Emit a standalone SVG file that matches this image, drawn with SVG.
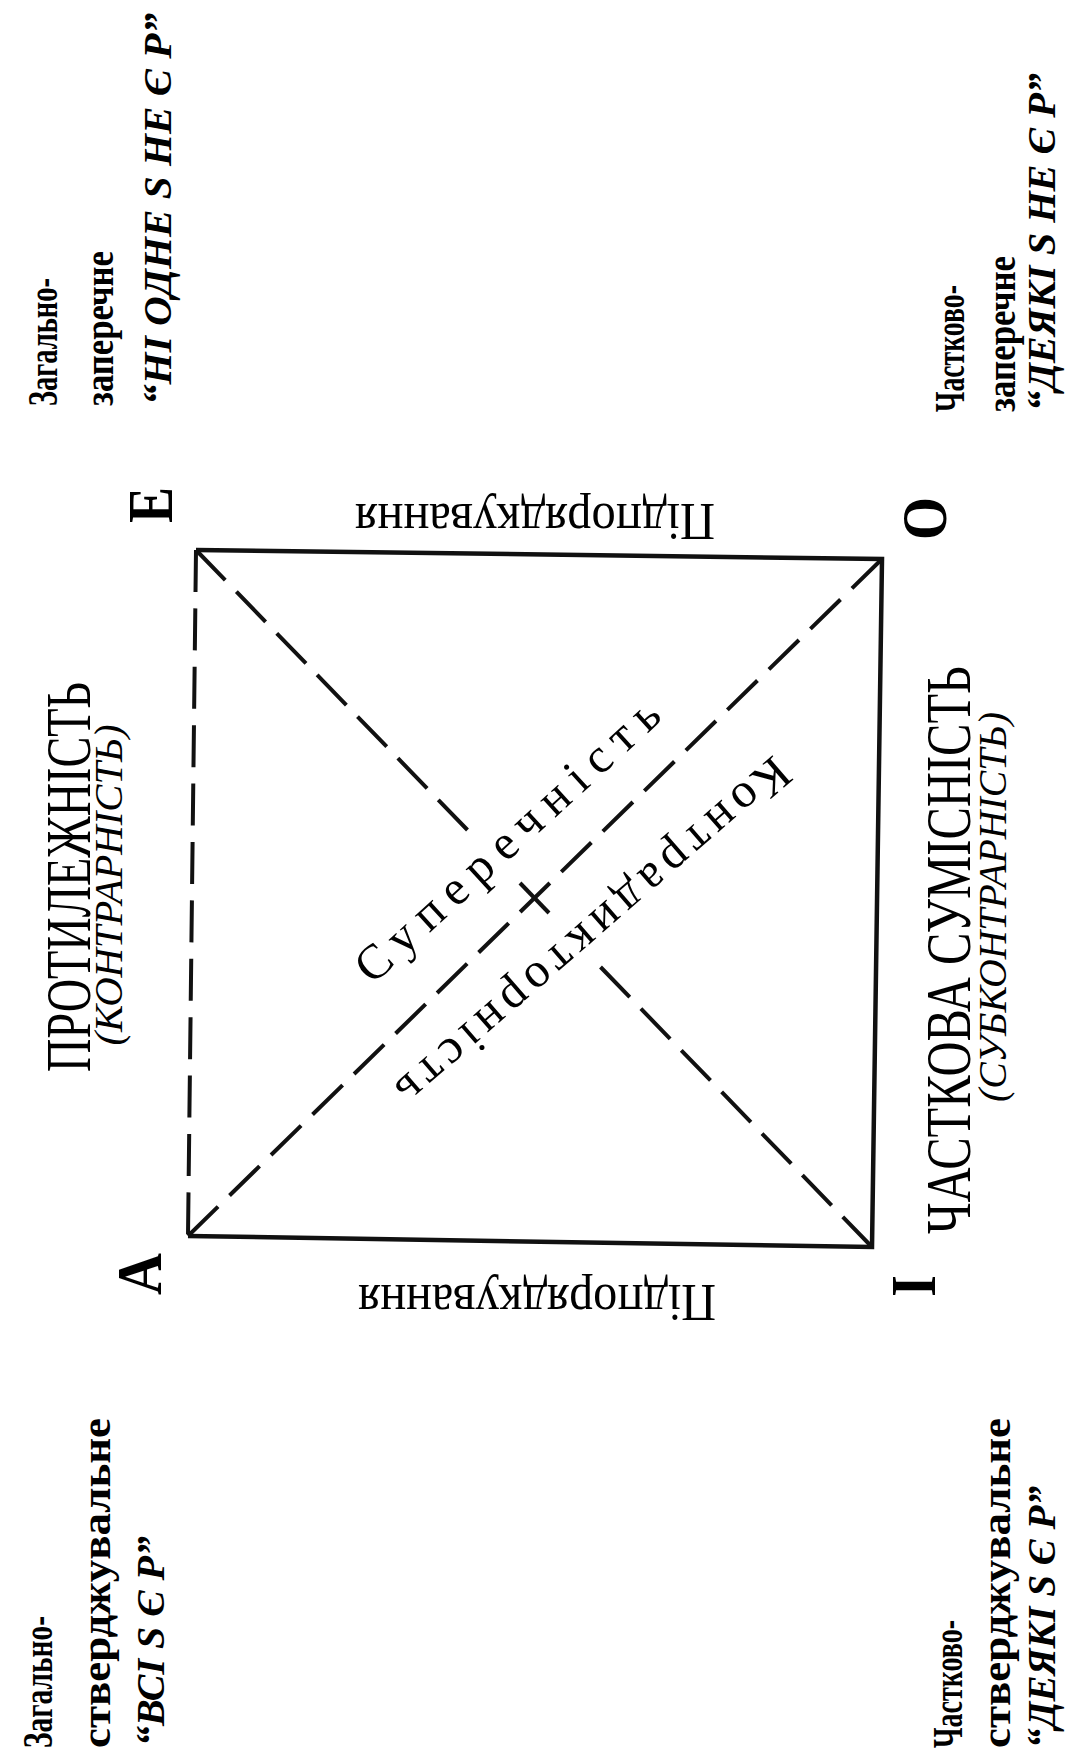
<svg xmlns="http://www.w3.org/2000/svg" width="1067" height="1753" viewBox="0 0 1067 1753">
<style>
.t{font-family:"Liberation Serif","Times New Roman",serif;fill:#000}
.big{font-size:64px;font-weight:bold}
.cl{font-size:43px;font-weight:bold}
.cq{font-size:41px;font-weight:bold;font-style:italic}
.rel{font-size:63px}
.reli{font-size:40px;font-style:italic}
.diag{font-size:49px}
.sub{font-size:52px}
.solid{stroke:#111;stroke-width:4.5;fill:none;stroke-linejoin:miter}
.dash{stroke:#111;stroke-width:4;fill:none;stroke-dasharray:42 16}
</style>
<rect width="1067" height="1753" fill="#fff"/>
<g id="connectors">
  <path class="solid" d="M196,550 L882,559 L872,1247 L188,1236"/>
  <path class="dash" style="stroke-dasharray:42 16.4" d="M196,550 L188,1236"/>
  <path class="dash" d="M196,550 L467.5,830"/>
  <path class="dash" d="M872,1247 L600.5,967"/>
  <path class="dash" d="M188,1236 L535,897.5"/>
  <path class="dash" d="M882,559 L535,897.5"/>
  <path class="solid" style="stroke-width:4" d="M520,883 L549,913"/>
</g>
<g id="node-E">
  <text class="t big" transform="translate(172,505) rotate(-90)" text-anchor="middle" textLength="36" lengthAdjust="spacingAndGlyphs">E</text>
  <text class="t cl" transform="translate(57,406) rotate(-90)" textLength="128" lengthAdjust="spacingAndGlyphs">Загально-</text>
  <text class="t cl" transform="translate(113,406) rotate(-90)" textLength="155" lengthAdjust="spacingAndGlyphs">заперечне</text>
  <text class="t cq" transform="translate(171,405) rotate(-90)" textLength="392" lengthAdjust="spacingAndGlyphs">“НІ ОДНЕ S НЕ Є P”</text>
</g>
<g id="node-O">
  <text class="t big" transform="translate(946,518.5) rotate(-90)" text-anchor="middle" textLength="43" lengthAdjust="spacingAndGlyphs">O</text>
  <text class="t cl" transform="translate(964,412) rotate(-90)" textLength="127" lengthAdjust="spacingAndGlyphs">Частково-</text>
  <text class="t cl" transform="translate(1015,412) rotate(-90)" textLength="156" lengthAdjust="spacingAndGlyphs">заперечне</text>
  <text class="t cq" transform="translate(1055,411) rotate(-90)" textLength="338" lengthAdjust="spacingAndGlyphs">“ДЕЯКІ S НЕ Є P”</text>
</g>
<g id="node-A">
  <text class="t big" transform="translate(161,1274) rotate(-90)" text-anchor="middle" textLength="42" lengthAdjust="spacingAndGlyphs">A</text>
  <text class="t cl" transform="translate(52,1748) rotate(-90)" textLength="132" lengthAdjust="spacingAndGlyphs">Загально-</text>
  <text class="t cl" transform="translate(110,1748) rotate(-90)" textLength="330" lengthAdjust="spacingAndGlyphs">стверджувальне</text>
  <text class="t cq" transform="translate(164,1746) rotate(-90)" textLength="210" lengthAdjust="spacingAndGlyphs">“ВСІ S Є P”</text>
</g>
<g id="node-I">
  <text class="t big" transform="translate(935,1286) rotate(-90)" text-anchor="middle" textLength="22" lengthAdjust="spacingAndGlyphs">I</text>
  <text class="t cl" transform="translate(962,1748) rotate(-90)" textLength="128" lengthAdjust="spacingAndGlyphs">Частково-</text>
  <text class="t cl" transform="translate(1010,1748) rotate(-90)" textLength="330" lengthAdjust="spacingAndGlyphs">стверджувальне</text>
  <text class="t cq" transform="translate(1055,1748) rotate(-90)" textLength="262" lengthAdjust="spacingAndGlyphs">“ДЕЯКІ S Є P”</text>
</g>
<g id="rel-contrary">
  <text class="t rel" transform="translate(90,877) rotate(-90)" text-anchor="middle" textLength="390" lengthAdjust="spacingAndGlyphs">ПРОТИЛЕЖНІСТЬ</text>
  <text class="t reli" transform="translate(122,885) rotate(-90)" text-anchor="middle" textLength="321" lengthAdjust="spacingAndGlyphs">(КОНТРАРНІСТЬ)</text>
</g>
<g id="rel-subcontrary">
  <text class="t rel" transform="translate(970,950) rotate(-90)" text-anchor="middle" textLength="568" lengthAdjust="spacingAndGlyphs">ЧАСТКОВА СУМІСНІСТЬ</text>
  <text class="t reli" transform="translate(1006,907) rotate(-90)" text-anchor="middle" textLength="390" lengthAdjust="spacingAndGlyphs">(СУБКОНТРАРНІСТЬ)</text>
</g>
<g id="rel-subalternation">
  <text class="t sub" transform="translate(535,504) rotate(180)" text-anchor="middle" textLength="360" lengthAdjust="spacingAndGlyphs">Підпорядкування</text>
  <text class="t sub" transform="translate(537,1285) rotate(180)" text-anchor="middle" textLength="358" lengthAdjust="spacingAndGlyphs">Підпорядкування</text>
</g>
<g id="rel-contradiction">
  <text class="t diag" transform="translate(518,852) rotate(-42.5)" text-anchor="middle" textLength="395">Суперечність</text>
  <text class="t diag" transform="translate(583,920) rotate(139)" text-anchor="middle" textLength="505">Контрадикторність</text>
</g>
</svg>
